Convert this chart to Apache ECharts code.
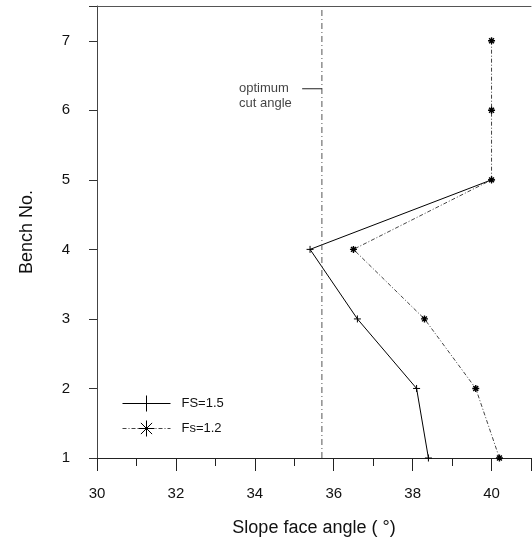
<!DOCTYPE html>
<html><head><meta charset="utf-8">
<script src="https://cdn.jsdelivr.net/npm/echarts@6/dist/echarts.min.js"></script>
<style>html,body{margin:0;padding:0;background:#fff}#c{width:532px;height:540px}</style>
</head><body><div id="c"></div>
<script>
const benches = [1, 2, 3, 4, 5, 6, 7];
const fs15 = [38.4, 38.1, 36.6, 35.4, 40.0];
const fs12 = [40.2, 39.6, 38.3, 36.5, 40.0, 40.0, 40.0];
const optimumAngle = 35.7;
const seriesNames = ['FS=1.5', 'Fs=1.2'];
const xTicks = [30, 32, 34, 36, 38, 40];
const yTicks = [1, 2, 3, 4, 5, 6, 7];

const plusSym = 'path://M0,5L10,5M5,0L5,10';
const starSym = 'path://M5,0L5,10M0,5L10,5M1.5,1.5L8.5,8.5M8.5,1.5L1.5,8.5';
const font = 'Liberation Sans, Arial, sans-serif';
const gridBox = {left: 97, right: 1, top: 6, bottom: 82, outerBoundsMode: 'none', containLabel: false};

const chart = echarts.init(document.getElementById('c'), null, {renderer: 'canvas'});
chart.setOption({
  backgroundColor: '#fff',
  animation: false,
  grid: [Object.assign({}, gridBox), Object.assign({}, gridBox)],
  xAxis: [
    {gridIndex: 0, type: 'value', min: 30, max: 41, interval: 1, position: 'bottom',
     name: 'Slope face angle ( \u00b0)', nameLocation: 'middle', nameGap: 61,
     nameTextStyle: {fontSize: 18, color: '#111', fontFamily: font},
     axisLine: {lineStyle: {color: '#222', width: 1}},
     axisTick: {inside: false, length: 8, lineStyle: {color: '#222'}},
     axisLabel: {margin: 28, fontSize: 15, color: '#111', fontFamily: font,
       formatter: v => xTicks.indexOf(v) >= 0 ? String(v) : ''},
     splitLine: {show: false}},
    {gridIndex: 0, type: 'value', min: 30, max: 41, position: 'top',
     axisLine: {lineStyle: {color: '#555', width: 1}}, axisTick: {show: false},
     axisLabel: {show: false}, splitLine: {show: false}},
    {gridIndex: 1, type: 'value', min: 30, max: 41, interval: 2, position: 'bottom',
     axisLine: {show: false},
     axisTick: {length: 13, lineStyle: {color: '#222'}},
     axisLabel: {show: false}, splitLine: {show: false}}
  ],
  yAxis: [
    {gridIndex: 0, type: 'value', min: 1, max: 7.5, interval: 1,
     name: 'Bench No.', nameLocation: 'middle', nameGap: 61,
     nameTextStyle: {fontSize: 18, color: '#111', fontFamily: font},
     axisLine: {lineStyle: {color: '#444', width: 1}},
     axisTick: {length: 8, lineStyle: {color: '#333'}},
     axisLabel: {margin: 27, fontSize: 15, color: '#111', fontFamily: font,
       formatter: v => yTicks.indexOf(v) >= 0 ? String(v) : ''},
     splitLine: {show: false}},
    {gridIndex: 1, type: 'value', min: 1, max: 7.5, show: false}
  ],
  legend: {
    orient: 'vertical', left: 117, top: 390, itemWidth: 48, itemHeight: 20, itemGap: 8,
    textStyle: {fontSize: 13, color: '#111', fontFamily: font, padding: [0, 0, 0, 6]},
    data: [
      {name: seriesNames[0], itemStyle: {color: '#000', borderColor: '#000', borderWidth: 1},
       lineStyle: {width: 1, color: '#000'}},
      {name: seriesNames[1], itemStyle: {color: '#000', borderColor: '#000', borderWidth: 1},
       lineStyle: {width: 1, color: '#444'}}
    ]
  },
  series: [
    {name: seriesNames[0], type: 'line', xAxisIndex: 0, yAxisIndex: 0,
     data: fs15.map((v, i) => [v, benches[i]]),
     symbol: plusSym, symbolSize: 7, showAllSymbol: true,
     itemStyle: {color: '#000', borderColor: '#000', borderWidth: 1},
     lineStyle: {color: '#000', width: 1, type: 'solid'}},
    {name: seriesNames[1], type: 'line', xAxisIndex: 0, yAxisIndex: 0,
     data: fs12.map((v, i) => [v, benches[i]]),
     symbol: starSym, symbolSize: 7, showAllSymbol: true,
     itemStyle: {color: '#000', borderColor: '#000', borderWidth: 1.4},
     lineStyle: {color: '#444', width: 1, type: [4, 2, 1, 2]}},
    {name: 'optimum', type: 'line', xAxisIndex: 0, yAxisIndex: 0,
     data: [[optimumAngle, 1], [optimumAngle, 7.5]], symbol: 'none',
     lineStyle: {color: '#555', width: 1, type: [6, 3, 1, 3]}, silent: true},
    {name: 'leader', type: 'line', xAxisIndex: 0, yAxisIndex: 0,
     data: [[35.2, 6.31], [optimumAngle, 6.31]], symbol: 'none',
     lineStyle: {color: '#222', width: 1}, silent: true},
    {name: 'label', type: 'scatter', xAxisIndex: 0, yAxisIndex: 0,
     data: [[33.6, 6.21]], symbolSize: 0, silent: true,
     label: {show: true, position: 'right', distance: 0, formatter: 'optimum\ncut angle',
       fontSize: 13, lineHeight: 15, color: '#111', fontFamily: font, align: 'left'}}
  ]
});
</script></body></html>
